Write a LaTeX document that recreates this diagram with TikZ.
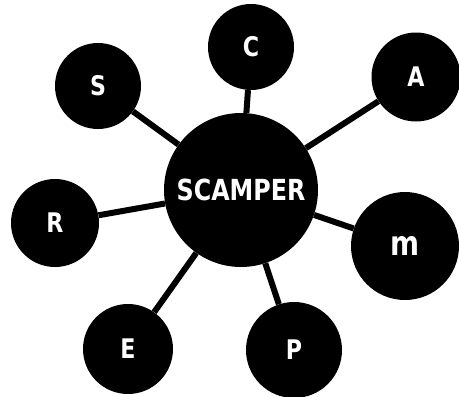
\documentclass[tikz,border=0pt]{standalone}
\usepackage{fontspec}
\newfontfamily\scamperfont[FakeStretch=0.82]{DejaVu Sans}
\newcommand{\hubSize}{154pt}
\newcommand{\linkWidth}{6pt}
\tikzset{
  sc base/.style={text=white, inner sep=0pt},
  sc link/.style={line width=\linkWidth},
  sc hub/.style={draw=none, circle, fill=black, minimum size=\hubSize,
    font=\scamperfont\bfseries\fontsize{29}{29}\selectfont},
  sc leaf/.style={draw=none, circle, fill=black, minimum size=#1,
    font=\scamperfont\bfseries\fontsize{27}{27}\selectfont},
}

\begin{document}
\begin{tikzpicture}[
    x=1pt, y=-1pt,
    sc base,
    hub/.style={sc hub},
    leaf/.style={sc leaf=#1},
    link/.style={sc link}
]
\useasboundingbox (0,0) rectangle (459,397);
\node (core) [hub]      at (241,190) {SCAMPER};
\node (s)    [leaf=86pt]  at (98,86)   {S};
\node (c)    [leaf=86pt]  at (251,47)  {C};
\node (a)    [leaf=89pt]  at (416,77)  {A};
\node (m)    [leaf=108pt] at (405,246) {\fontsize{34}{34}\selectfont m};
\node (p)    [leaf=96pt]  at (294,350) {P};
\node (e)    [leaf=90pt]  at (128,349) {E};
\node (r)    [leaf=88pt]  at (55,223)  {R};

\draw [link] (core) -- (s);
\draw [link] (core) -- (c);
\draw [link] (core) -- (a);
\draw [link] (core) -- (m);
\draw [link] (core) -- (p);
\draw [link] (core) -- (e);
\draw [link] (core) -- (r);
\end{tikzpicture}
\end{document}
